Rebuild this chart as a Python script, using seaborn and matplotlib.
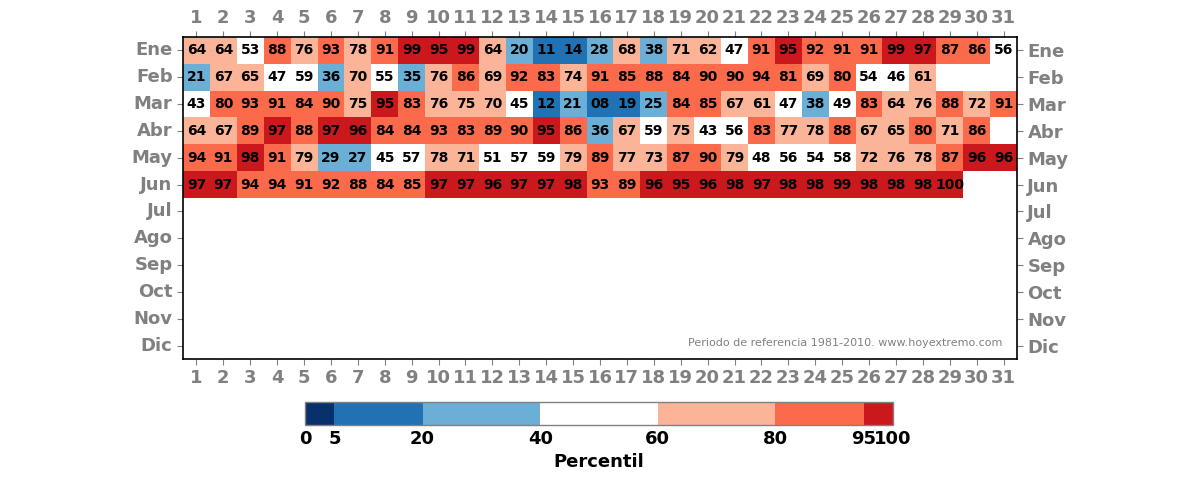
import numpy as np
import pandas as pd
import matplotlib
matplotlib.use("Agg")
import matplotlib.pyplot as plt
from matplotlib.colors import ListedColormap, BoundaryNorm
import seaborn as sns

# Datos: percentil diario por mes
meses = ['Ene', 'Feb', 'Mar', 'Abr', 'May', 'Jun', 'Jul', 'Ago', 'Sep', 'Oct', 'Nov', 'Dic']
dias = list(range(1, 32))

ene = [64, 64, 53, 88, 76, 93, 78, 91, 99, 95, 99, 64, 20, 11, 14, 28, 68, 38, 71, 62, 47, 91, 95, 92, 91, 91, 99, 97, 87, 86, 56]
feb = [21, 67, 65, 47, 59, 36, 70, 55, 35, 76, 86, 69, 92, 83, 74, 91, 85, 88, 84, 90, 90, 94, 81, 69, 80, 54, 46, 61]
mar = [43, 80, 93, 91, 84, 90, 75, 95, 83, 76, 75, 70, 45, 12, 21, 8, 19, 25, 84, 85, 67, 61, 47, 38, 49, 83, 64, 76, 88, 72, 91]
abr = [64, 67, 89, 97, 88, 97, 96, 84, 84, 93, 83, 89, 90, 95, 86, 36, 67, 59, 75, 43, 56, 83, 77, 78, 88, 67, 65, 80, 71, 86]
may = [94, 91, 98, 91, 79, 29, 27, 45, 57, 78, 71, 51, 57, 59, 79, 89, 77, 73, 87, 90, 79, 48, 56, 54, 58, 72, 76, 78, 87, 96, 96]
jun = [97, 97, 94, 94, 91, 92, 88, 84, 85, 97, 97, 96, 97, 97, 98, 93, 89, 96, 95, 96, 98, 97, 98, 98, 99, 98, 98, 98, 100]

limites = [0, 5, 20, 40, 60, 80, 95, 100]
colores = ['#08306b', '#2171b5', '#6baed6', '#ffffff', '#fcb499', '#fb6a4a', '#cb181d']

# Matriz 12x31 con NaN donde no hay datos
datos = np.full((12, 31), np.nan)
for i, fila in enumerate([ene, feb, mar, abr, may, jun]):
    datos[i, :len(fila)] = fila
df = pd.DataFrame(datos, index=meses, columns=dias)
etiquetas = df.map(lambda v: '' if np.isnan(v) else '%02d' % v)

cmap = ListedColormap(colores)
norm = BoundaryNorm(limites, cmap.N)

fig = plt.figure(figsize=(12, 4.8), dpi=100)
ax = fig.add_axes([0.1525, 0.252, 0.695, 0.671])
cax = fig.add_axes([305 / 1200, 1 - 425 / 480, 588 / 1200, 23 / 480])

sns.heatmap(df, ax=ax, cmap=cmap, norm=norm, annot=etiquetas, fmt='',
            annot_kws={'fontsize': 10, 'fontweight': 'bold', 'color': 'black'},
            cbar_ax=cax,
            cbar_kws={'orientation': 'horizontal', 'ticks': limites, 'spacing': 'proportional'})

# Ejes: marco y etiquetas a ambos lados
for sp in ax.spines.values():
    sp.set_visible(True)
    sp.set_color('black')
    sp.set_linewidth(1.2)
ax.tick_params(top=True, right=True, labeltop=True, labelright=True,
               colors='gray', labelsize=13, length=4)
ax.set_yticklabels(meses, rotation=0)
ax.set_xticklabels([str(d) for d in dias], rotation=0)
for lab in ax.get_xticklabels() + ax.get_yticklabels():
    lab.set_fontweight('bold')
    lab.set_color('gray')
ax.set_xlabel('')
ax.set_ylabel('')

ax.text(0.982, 0.035, 'Periodo de referencia 1981-2010. www.hoyextremo.com',
        transform=ax.transAxes, ha='right', va='bottom', fontsize=8, color='gray')

# Barra de color
cb = ax.collections[0].colorbar
cb.ax.tick_params(labelsize=13, length=0)
for lab in cb.ax.get_xticklabels():
    lab.set_fontweight('bold')
cb.set_label('Percentil', fontsize=13, fontweight='bold')
cb.outline.set_visible(True)
cb.outline.set_edgecolor('gray')
cb.outline.set_linewidth(1)

fig.savefig('out.png', dpi=100)
